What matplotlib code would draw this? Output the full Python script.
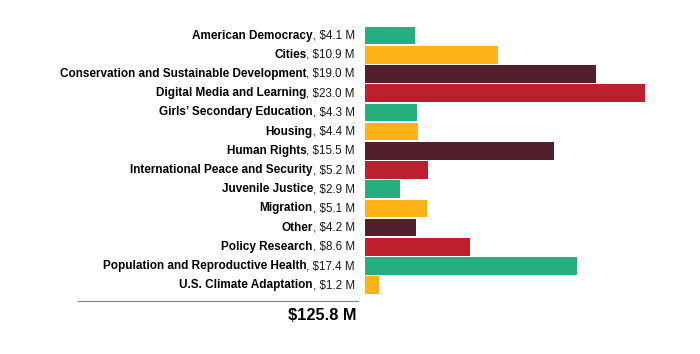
import matplotlib
matplotlib.use("Agg")
import matplotlib.pyplot as plt
from matplotlib.lines import Line2D

plt.rcParams['font.family'] = ['Liberation Sans', 'DejaVu Sans']

categories = ["American Democracy", "Cities", "Conservation and Sustainable Development",
              "Digital Media and Learning", "Girls\u2019 Secondary Education", "Housing",
              "Human Rights", "International Peace and Security", "Juvenile Justice",
              "Migration", "Other", "Policy Research",
              "Population and Reproductive Health", "U.S. Climate Adaptation"]
values = [4.1, 10.9, 19.0, 23.0, 4.3, 4.4, 15.5, 5.2, 2.9, 5.1, 4.2, 8.6, 17.4, 1.2]
total_label = "$125.8 M"

palette = ["#25ae80", "#fdb316", "#521f2c", "#bc202e"]
colors = [palette[i % 4] for i in range(len(values))]

W, H = 700, 354
fig = plt.figure(figsize=(W / 100, H / 100), dpi=100)

# axes placed in pixels: bars start at x=365, 23.0 -> 645
x0, x1 = 364.7, 690
scale = (645 - 364.7) / 23.0
y_top, y_bot = 25.9, 294.9
ax = fig.add_axes([x0 / W, 1 - y_bot / H, (x1 - x0) / W, (y_bot - y_top) / H])

ypos = list(range(len(values)))
ax.barh(ypos, values, height=0.92, color=colors, edgecolor='none')
ax.set_xlim(0, (x1 - x0) / scale)
ax.set_ylim(len(values) - 0.5, -0.5)
ax.axis('off')

for y, name, v in zip(ypos, categories, values):
    t = ax.annotate(", ${:.1f} M".format(v), xy=(0, y), xytext=(-7.0, 0),
                    textcoords='offset points', ha='right', va='center',
                    fontsize=8.4, color='#1a1a1a')
    ax.annotate(name, xy=(0, 0.5), xycoords=t, ha='right', va='center',
                fontsize=8.5, fontweight='bold', color='black')

fig.add_artist(Line2D([78 / W, 358 / W], [1 - 301 / H, 1 - 301 / H],
                      color='#888888', lw=0.9))
fig.text(357 / W, 1 - 316 / H, total_label, ha='right', va='center',
         fontsize=11.8, fontweight='bold', color='black')

fig.savefig("out.png", dpi=100)
